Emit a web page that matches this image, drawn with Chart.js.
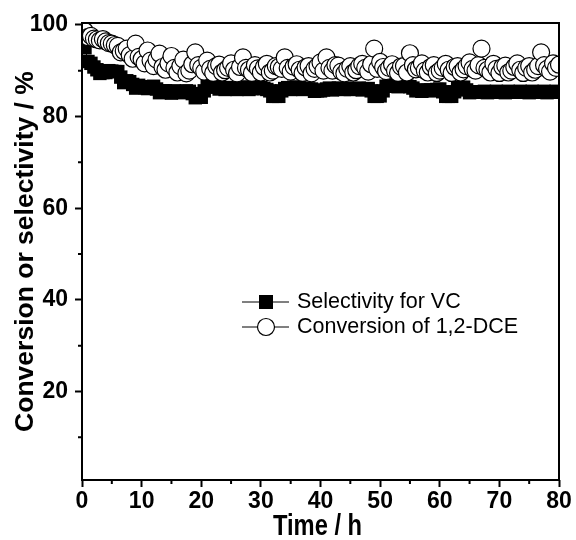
<!DOCTYPE html>
<html>
<head>
<meta charset="utf-8">
<script src="https://cdn.jsdelivr.net/npm/chart.js@4"></script>
<style>
html,body{margin:0;padding:0;background:#fff}
#wrap{width:576px;height:540px}
</style>
</head>
<body>
<div id="wrap"><canvas id="chart" width="576" height="540"></canvas></div>
<script>
// DATA
// ═══════════════════════════════════════════════════════
const TIME=[0.5,1,1.5,2,2.5,3,3.5,4,4.5,5,5.5,6,6.5,7,7.5,8,8.5,9,9.5,10,10.5,11,11.5,12,12.5,13,13.5,14,14.5,15,15.5,16,16.5,17,17.5,18,18.5,19,19.5,20,
  20.5,21,21.5,22,22.5,23,23.5,24,24.5,25,25.5,26,26.5,27,27.5,28,28.5,29,29.5,30,
  30.5,31,31.5,32,32.5,33,33.5,34,34.5,35,35.5,36,36.5,37,37.5,38,38.5,39,39.5,40,
  40.5,41,41.5,42,42.5,43,43.5,44,44.5,45,45.5,46,46.5,47,47.5,48,48.5,49,49.5,50,
  50.5,51,51.5,52,52.5,53,53.5,54,54.5,55,55.5,56,56.5,57,57.5,58,58.5,59,59.5,60,
  60.5,61,61.5,62,62.5,63,63.5,64,64.5,65,65.5,66,66.5,67,67.5,68,68.5,69,69.5,70,
  70.5,71,71.5,72,72.5,73,73.5,74,74.5,75,75.5,76,76.5,77,77.5,78,78.5,79,79.5,80];
const CONVERSION=[98.6,97.3,97.6,97.0,96.8,96.6,96.9,96.4,96.0,95.9,95.6,95.4,94.0,94.3,94.8,93.4,92.6,95.9,93.0,92.5,91.6,94.4,92.2,91.0,92.4,93.7,90.8,90.2,91.6,93.2,90.6,89.6,91.0,92.4,89.4,90.0,91.4,94.0,91.2,90.6,
  89.8,92.2,90.4,89.5,91.0,91.3,89.6,90.1,90.6,91.6,90.2,89.4,90.8,92.9,90.6,90.2,89.5,91.2,90.5,89.6,
  90.8,91.5,89.6,90.0,91.0,90.8,90.4,92.9,90.6,89.8,90.9,91.4,90.2,89.5,90.7,91.0,89.4,90.4,91.0,91.8,
  90.0,92.9,90.6,90.0,91.2,91.1,89.8,89.4,90.4,91.0,89.6,90.1,91.0,91.5,90.6,89.8,91.4,94.8,90.4,91.9,
  90.8,89.9,90.6,91.4,90.0,89.5,90.9,91.0,89.6,93.8,91.2,90.3,90.6,91.6,90.0,89.6,90.8,91.2,89.5,90.0,
  90.6,91.5,90.2,89.5,90.8,91.0,89.6,90.3,91.0,91.8,90.4,90.0,91.2,94.8,90.6,90.2,89.6,91.5,90.4,89.5,
  90.8,91.1,89.6,90.0,90.8,91.6,90.2,89.5,90.6,91.0,89.6,90.2,91.0,94.0,91.2,90.4,89.8,91.6,90.6,91.3];
const SELECTIVITY=[95.0,92.0,91.6,90.8,90.2,89.4,89.6,89.6,90.0,89.9,89.8,89.8,88.6,87.4,87.8,87.6,87.0,86.2,86.8,86.4,86.3,86.1,86.5,86.6,86.0,85.2,85.6,85.6,85.4,85.1,85.6,85.4,85.3,85.2,85.6,85.5,85.0,84.1,84.2,84.2,
  85.6,86.5,86.6,86.8,86.4,86.0,86.2,85.9,86.3,86.3,86.0,85.9,86.2,86.4,86.4,85.9,86.1,86.1,86.4,86.3,
  86.1,85.9,85.6,84.4,84.4,84.4,85.6,86.1,86.3,85.9,86.4,86.4,86.0,85.9,86.2,86.0,86.0,85.5,85.6,85.6,
  85.8,86.0,86.2,85.8,86.0,86.2,86.1,85.9,86.2,85.9,86.0,86.0,86.2,85.8,86.0,86.1,85.6,84.4,84.4,84.5,
  85.6,86.6,86.8,86.7,86.6,86.5,86.7,86.6,86.6,86.5,86.2,85.6,85.7,85.5,85.8,85.7,85.8,85.6,85.9,86.0,
  85.4,84.4,84.4,84.4,85.4,86.2,86.3,86.4,85.8,85.2,85.4,85.3,85.4,85.3,85.5,85.2,85.4,85.3,85.5,85.3,
  85.4,85.2,85.5,85.3,85.4,85.3,85.5,85.3,85.4,85.2,85.5,85.3,85.4,85.3,85.5,85.2,85.4,85.3,85.5,85.3];
const X_TICKS=[0,10,20,30,40,50,60,70,80];
const X_MINOR=[5,15,25,35,45,55,65,75];
const Y_TICKS=[20,40,60,80,100];
const Y_MINOR=[10,30,50,70,90];
const LABELS=['Selectivity for VC','Conversion of 1,2-DCE'];
const X_TITLE='Time / h';
const Y_TITLE='Conversion or selectivity / %';

const SANS="'Liberation Sans',Arial,sans-serif";

const pts=ys=>TIME.map((t,i)=>({x:t,y:ys[i]}));

// frame, minor ticks, narrow x title and the line+symbol legend
const framePlugin={
  id:'frame',
  afterDraw(chart){
    const {ctx,chartArea:a,scales:{x,y}}=chart;
    ctx.save();
    ctx.strokeStyle='#000';ctx.lineWidth=2;
    ctx.strokeRect(a.left,a.top,a.right-a.left,a.bottom-a.top);
    ctx.beginPath();
    X_MINOR.forEach(v=>{const px=x.getPixelForValue(v);ctx.moveTo(px,a.bottom);ctx.lineTo(px,a.bottom+4);});
    Y_MINOR.forEach(v=>{const py=y.getPixelForValue(v);ctx.moveTo(a.left,py);ctx.lineTo(a.left-4,py);});
    ctx.stroke();

    // x title, horizontally condensed like the original
    ctx.save();
    ctx.translate((a.left+a.right)/2-3,535);ctx.scale(0.79,1);
    ctx.font='bold 30px '+SANS;ctx.textAlign='center';ctx.textBaseline='alphabetic';ctx.fillStyle='#000';
    ctx.fillText(X_TITLE,0,0);
    ctx.restore();

    const rows=[{ds:chart.data.datasets[1],y:302},{ds:chart.data.datasets[0],y:327}];
    ctx.font='21.5px '+SANS;ctx.textBaseline='middle';ctx.textAlign='left';
    rows.forEach(r=>{
      ctx.lineWidth=1;ctx.strokeStyle='#000';
      ctx.beginPath();ctx.moveTo(242,r.y);ctx.lineTo(289,r.y);ctx.stroke();
      ctx.beginPath();
      if(r.ds.pointStyle==='rect'){ctx.rect(259,r.y-7,14,14);ctx.fillStyle='#000';ctx.fill();}
      else{ctx.arc(266,r.y,8.5,0,Math.PI*2);ctx.fillStyle='#fff';ctx.fill();ctx.lineWidth=1.2;ctx.stroke();}
      ctx.fillStyle='#000';
      ctx.fillText(r.ds.label,297,r.y);
    });
    ctx.restore();
  }
};

const tickFont={family:SANS,size:23,weight:'bold'};

new Chart(document.getElementById('chart').getContext('2d'),{
  type:'scatter',
  data:{datasets:[
    {label:LABELS[1],data:pts(CONVERSION),showLine:true,borderColor:'#000',borderWidth:1,
     pointStyle:'circle',pointRadius:8.5,pointBorderWidth:1.2,pointBackgroundColor:'#fff',pointBorderColor:'#000',order:0},
    {label:LABELS[0],data:pts(SELECTIVITY),showLine:true,borderColor:'#000',borderWidth:1,
     pointStyle:'rect',pointRadius:9.5,pointBorderWidth:0,pointBackgroundColor:'#000',pointBorderColor:'#000',order:1}
  ]},
  options:{
    responsive:false,animation:false,events:[],
    layout:{padding:{top:23,right:17,left:0,bottom:0}},
    plugins:{legend:{display:false},tooltip:{enabled:false}},
    scales:{
      x:{
        type:'linear',min:0,max:80,
        afterBuildTicks:s=>{s.ticks=X_TICKS.map(v=>({value:v}));},
        afterFit:s=>{s.height=60;},
        grid:{drawOnChartArea:false,tickLength:7,tickWidth:2,tickColor:'#000'},
        border:{display:false},
        ticks:{color:'#000',font:tickFont,padding:1,maxRotation:0},
        title:{display:false}
      },
      y:{
        type:'linear',min:0.7,max:100.4,
        afterBuildTicks:s=>{s.ticks=Y_TICKS.map(v=>({value:v}));},
        afterFit:s=>{s.width=82;},
        grid:{drawOnChartArea:false,tickLength:7,tickWidth:2,tickColor:'#000'},
        border:{display:false},
        ticks:{color:'#000',font:tickFont,padding:7},
        title:{display:true,text:Y_TITLE,color:'#000',font:{family:SANS,size:26.5,weight:'bold',lineHeight:1},padding:{top:12.5,bottom:0}}
      }
    }
  },
  plugins:[framePlugin]
});
</script>
</body>
</html>
